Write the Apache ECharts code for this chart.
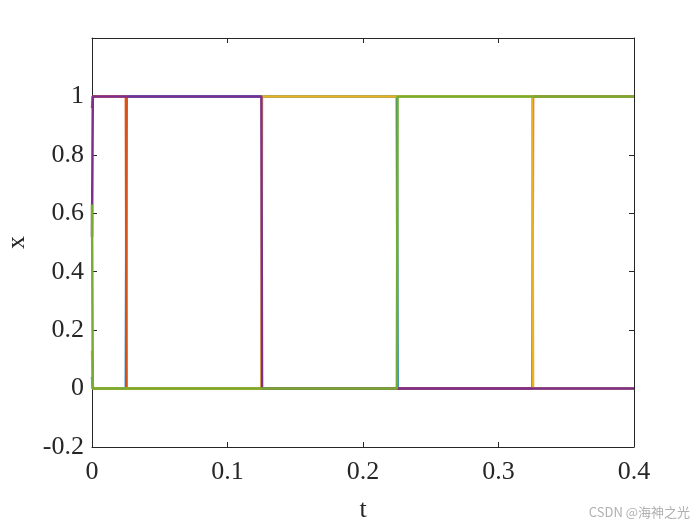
<!DOCTYPE html>
<html>
<head>
<meta charset="utf-8">
<script src="https://cdn.jsdelivr.net/npm/echarts@6/dist/echarts.min.js"></script>
<style>html,body{margin:0;padding:0;background:#fff}#c{width:700px;height:525px}</style>
</head>
<body>
<div id="c"></div>
<script>
// Data (time t, state x)
const blueT   = [0, 0.0006, 0.0250, 0.0255, 0.2250, 0.2255, 0.4];
const blueX   = [0.04, 0, 0, 1, 1, 0, 0];
const redT    = [0, 0.0006, 0.0250, 0.0255, 0.3250, 0.3255, 0.4];
const redX    = [0.96, 1, 1, 0, 0, 1, 1];
const yellowT = [0, 0.0006, 0.1250, 0.1255, 0.3250, 0.3255, 0.4];
const yellowX = [0.13, 0, 0, 1, 1, 0, 0];
const purpleT = [0, 0.0006, 0.1250, 0.1255, 0.4];
const purpleX = [0.52, 1, 1, 0, 0];
const greenT  = [0, 0.0006, 0.2250, 0.2255, 0.4];
const greenX  = [0.63, 0, 0, 1, 1];
const xTickLabels = ['0', '0.1', '0.2', '0.3', '0.4'];
const yTickLabels = ['-0.2', '0', '0.2', '0.4', '0.6', '0.8', '1', ''];

const colors = ['#0072BD', '#D95319', '#EDB120', '#7E2F8E', '#77AC30'];
const seriesData = [[blueT, blueX], [redT, redX], [yellowT, yellowX], [purpleT, purpleX], [greenT, greenX]];

const font = '"Liberation Serif", "DejaVu Serif", serif';
const ink = '#262626';

const chart = echarts.init(document.getElementById('c'), null, {renderer: 'canvas'});
const axisCommon = {
  axisLine: {show: true, onZero: false, lineStyle: {color: ink, width: 1}},
  axisTick: {show: true, inside: true, length: 5, lineStyle: {color: ink}},
  splitLine: {show: false}
};
chart.setOption({
  animation: false,
  backgroundColor: '#fff',
  grid: {left: 92, right: 66, top: 38, bottom: 78, containLabel: false, outerBoundsMode: 'none'},
  xAxis: [
    Object.assign({
      type: 'value', min: 0, max: 0.4, interval: 0.1, position: 'bottom',
      name: 't', nameLocation: 'middle', nameGap: 50,
      nameTextStyle: {fontFamily: font, fontSize: 26, color: ink},
      axisLabel: {margin: 12, fontFamily: font, fontSize: 26, color: ink,
        formatter: (v) => xTickLabels[Math.round(v / 0.1)]}
    }, axisCommon),
    Object.assign({
      type: 'value', min: 0, max: 0.4, interval: 0.1, position: 'top',
      axisLabel: {show: false}
    }, axisCommon)
  ],
  yAxis: [
    Object.assign({
      type: 'value', min: -0.2, max: 1.2, interval: 0.2, position: 'left',
      name: 'x', nameLocation: 'middle', nameGap: 62, nameRotate: 90,
      nameTextStyle: {fontFamily: font, fontSize: 26, color: ink},
      axisLabel: {margin: 8, fontFamily: font, fontSize: 26, color: ink,
        formatter: (v) => yTickLabels[Math.round((v + 0.2) / 0.2)]}
    }, axisCommon),
    Object.assign({
      type: 'value', min: -0.2, max: 1.2, interval: 0.2, position: 'right',
      axisLabel: {show: false}
    }, axisCommon)
  ],
  series: seriesData.map((d, i) => ({
    type: 'line',
    xAxisIndex: 0, yAxisIndex: 0,
    data: d[0].map((t, k) => [t, d[1][k]]),
    showSymbol: false, symbol: 'none',
    lineStyle: {color: colors[i], width: 2.5},
    itemStyle: {color: colors[i]},
    z: 2 + i
  })),
  graphic: [{
    type: 'text', right: 10, bottom: 6,
    style: {text: 'CSDN @海神之光', fill: '#b0b0b0', fontSize: 13,
      fontFamily: '"Noto Sans CJK SC", "Noto Sans", sans-serif'}
  }]
});
</script>
</body>
</html>
